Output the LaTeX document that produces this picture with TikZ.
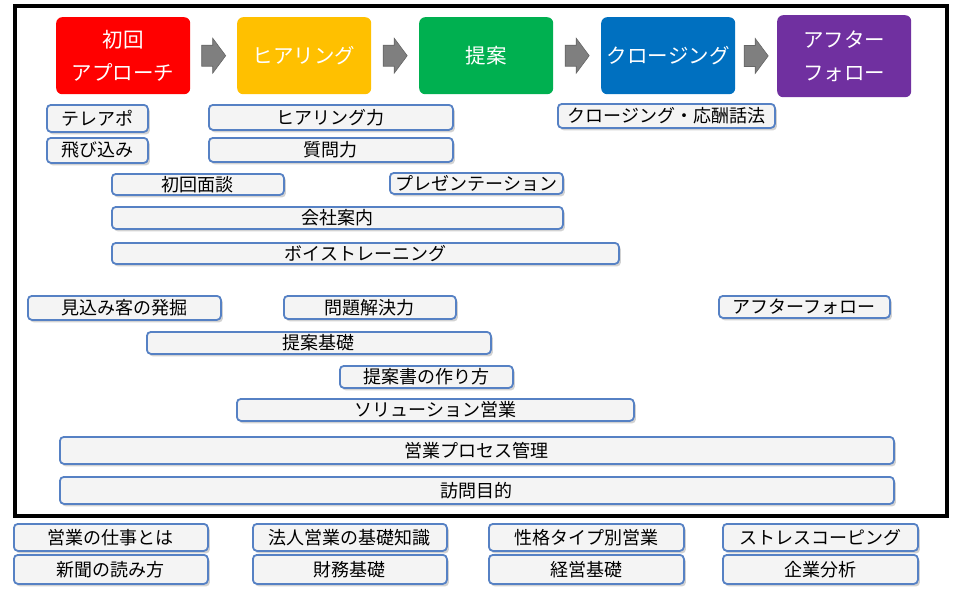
\documentclass[tikz,border=0pt]{standalone}
\usepackage{fontspec}
\setmainfont{Noto Sans CJK JP}
\usetikzlibrary{shadows,calc}
\definecolor{cred}{HTML}{FF0000}
\definecolor{cyellow}{HTML}{FFC000}
\definecolor{cgreen}{HTML}{00B050}
\definecolor{cblue}{HTML}{0070C0}
\definecolor{cpurple}{HTML}{7030A0}
\definecolor{skborder}{HTML}{5681C4}
\definecolor{skfill}{HTML}{F4F4F4}
\definecolor{arrowgray}{HTML}{7F7F7F}
\newcommand\skl[6]{\node[skill, minimum width={#4-#2}, minimum height={#5-#3}] (#1) at (#2,#3) {#6};}
\begin{document}
\begin{tikzpicture}[x=1pt,y=-1pt,
  stage/.style={rounded corners=6pt, inner sep=0pt, text=white, font=\fontsize{20.5}{33}\selectfont, align=center, anchor=north west},
  skill/.style={draw=skborder, line width=1.8pt, fill=skfill, rounded corners=4pt, inner sep=0pt, anchor=north west,
    font=\fontsize{18}{18}\selectfont, text=black,
    drop shadow={shadow xshift=2pt, shadow yshift=-2.5pt, fill=black!50, opacity=0.35}},
  garrowpic/.pic={\draw[draw=black!60, line width=0.6pt, fill=arrowgray, line join=miter]
    (-12,-10.5) -- ++(11,0) -- ++(0,-7) -- ++(13,17.5) -- ++(-13,17.5) -- ++(0,-7) -- ++(-11,0) -- cycle;}
]
\useasboundingbox (0,0) rectangle (963,589);
\fill[white] (0,0) rectangle (963,589);
\draw[line width=4pt] (14.5,5.5) rectangle (946.5,515.5);
% stages
\node[stage, fill=cred, minimum width=134pt, minimum height=77pt] (s1) at (56,17) {初回\\アプローチ};
\node[stage, fill=cyellow, minimum width=134pt, minimum height=77pt] (s2) at (237,17) {ヒアリング};
\node[stage, fill=cgreen, minimum width=134pt, minimum height=77pt] (s3) at (419,17) {提案};
\node[stage, fill=cblue, minimum width=134pt, minimum height=77pt] (s4) at (601,17) {クロージング};
\node[stage, fill=cpurple, minimum width=134pt, minimum height=82pt] (s5) at (777,15) {アフター\\フォロー};
% arrows between stages
\coordinate (a1) at ($(s1.east)!0.5!(s2.west)$);
\coordinate (a2) at ($(s2.east)!0.5!(s3.west)$);
\coordinate (a3) at ($(s3.east)!0.5!(s4.west)$);
\coordinate (a4) at ($(s4.east)!0.5!(s5.west)$);
\pic at (a1) {garrowpic};
\pic at (a2) {garrowpic};
\pic at (a3) {garrowpic};
\pic at (a4) {garrowpic};
% skills
\skl{teleapo}{46}{104}{147}{131}{テレアポ}
\skl{tobikomi}{46}{137}{147}{162}{飛び込み}
\skl{hearingp}{208}{104}{452}{129}{ヒアリング力}
\skl{shitsumon}{208}{137}{452}{161}{質問力}
\skl{closingw}{557}{103}{774}{127}{クロージング・応酬話法}
\skl{shokai}{111}{173}{283}{194}{初回面談}
\skl{presen}{389}{172}{562}{193}{プレゼンテーション}
\skl{kaisha}{111}{206}{562}{228}{会社案内}
\skl{voice}{111}{242}{618}{263}{ボイストレーニング}
\skl{mikomi}{27}{295}{220}{319}{見込み客の発掘}
\skl{mondai}{283}{295}{455}{318}{問題解決力}
\skl{afterf}{718}{295}{889}{317}{アフターフォロー}
\skl{teian}{146}{331}{490}{353}{提案基礎}
\skl{teiansho}{339}{365}{512}{387}{提案書の作り方}
\skl{solution}{236}{398}{633}{420}{ソリューション営業}
\skl{process}{59}{436}{893}{463}{営業プロセス管理}
\skl{houmon}{59}{476}{893}{503}{訪問目的}
\skl{shigoto}{13}{523}{207}{550}{営業の仕事とは}
\skl{shinbun}{13}{554}{207}{583}{新聞の読み方}
\skl{houjin}{252}{523}{446}{550}{法人営業の基礎知識}
\skl{zaimu}{252}{554}{446}{583}{財務基礎}
\skl{seikaku}{488}{523}{683}{550}{性格タイプ別営業}
\skl{keiei}{488}{554}{683}{583}{経営基礎}
\skl{stress}{722}{523}{917}{550}{ストレスコーピング}
\skl{kigyo}{722}{554}{917}{583}{企業分析}
\end{tikzpicture}
\end{document}
